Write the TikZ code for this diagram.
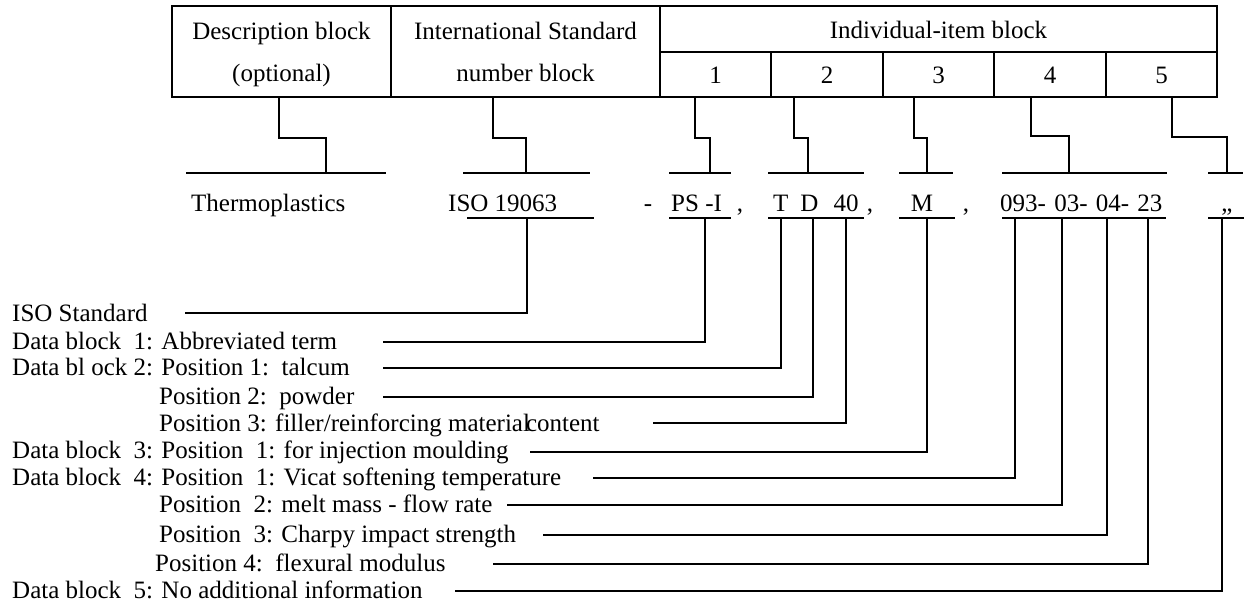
\documentclass[tikz,border=0pt]{standalone}
\usepackage{fontspec}
\setmainfont{Liberation Serif}
\begin{document}
\begin{tikzpicture}[x=1pt,y=-1pt,
  cellbox/.style={draw, line width=2.4pt, inner sep=0pt, outer sep=0pt, rectangle},
  conn/.style={line width=2pt},
  txt/.style={inner sep=0pt, font=\fontsize{25}{30}\selectfont},
  hdr/.style={txt, anchor=base},
  lbl/.style={txt, anchor=base west},
  valc/.style={txt, anchor=base},
]
\useasboundingbox[fill=white] (0,0) rectangle (1249,605);

% ---------- table ----------
\node[cellbox, minimum width=219pt, minimum height=91pt] (desc) at (281.5,51.5) {};
\node[cellbox, minimum width=269pt, minimum height=91pt] (isob) at (525.5,51.5) {};
\node[cellbox, minimum width=557pt, minimum height=46pt] (indiv) at (938.5,29) {};
\node[cellbox, minimum width=111pt, minimum height=45pt] (c1) at (715.5,74.5) {};
\node[cellbox, minimum width=112pt, minimum height=45pt] (c2) at (827,74.5) {};
\node[cellbox, minimum width=111pt, minimum height=45pt] (c3) at (938.5,74.5) {};
\node[cellbox, minimum width=112pt, minimum height=45pt] (c4) at (1050,74.5) {};
\node[cellbox, minimum width=111pt, minimum height=45pt] (c5) at (1161.5,74.5) {};

\node[hdr] (descA) at (281.5,39) {Description block};
\node[hdr] (descB) at (281.5,81) {(optional)};
\node[hdr] (isoA) at (525.5,39) {International Standard};
\node[hdr] (isoB) at (525.5,81) {number block};
\node[hdr] (indivT) at (938.5,38) {Individual-item block};
\node[hdr] (n1) at (715.5,83) {1};
\node[hdr] (n2) at (827,83) {2};
\node[hdr] (n3) at (938.5,83) {3};
\node[hdr] (n4) at (1050,83) {4};
\node[hdr] (n5) at (1161.5,83) {5};

% ---------- stepped connectors from the table ----------
\coordinate (dT) at (279,97);  \coordinate (dJ) at (326,138);  \coordinate (dB) at (326,173);
\coordinate (iT) at (493,97);  \coordinate (iJ) at (526,138);  \coordinate (iB) at (526,173);
\coordinate (aT) at (695,97);  \coordinate (aJ) at (710,138);  \coordinate (aB) at (710,173);
\coordinate (bT) at (794,97);  \coordinate (bJ) at (808,138);  \coordinate (bB) at (808,173);
\coordinate (cT) at (914,97);  \coordinate (cJ) at (927,138);  \coordinate (cB) at (927,173);
\coordinate (eT) at (1031,97); \coordinate (eJ) at (1069,136); \coordinate (eB) at (1069,173);
\coordinate (fT) at (1172,97); \coordinate (fJ) at (1227,137); \coordinate (fB) at (1227,173);
\foreach \p in {d,i,a,b,c,e,f} {
  \draw[conn] (\p T) |- (\p J) -- (\p B);
}
% top bars
\coordinate (dL) at (186,173);  \coordinate (dR) at (386,173);
\coordinate (iL) at (463,173);  \coordinate (iR) at (590,173);
\coordinate (aL) at (669,173);  \coordinate (aR) at (731,173);
\coordinate (bL) at (768,173);  \coordinate (bR) at (864,173);
\coordinate (cL) at (899,173);  \coordinate (cR) at (953,173);
\coordinate (eL) at (1002,173); \coordinate (eR) at (1167,173);
\coordinate (fL) at (1208,173); \coordinate (fR) at (1243,173);
\foreach \p in {d,i,a,b,c,e,f} {
  \draw[conn] (\p L) -- (\p R);
}

% ---------- designation row ----------
\node[lbl] (thermo) at (191,211) {Thermoplastics};
\node[lbl] (isonum) at (448,211) {ISO 19063};
\node[valc] (dash) at (648,211) {-};
\node[lbl] (psi) at (671,211) {PS -I};
\node[valc] (cm1) at (740,211) {,};
\node[lbl] (td40) at (773,211) {T\hspace{12pt}D\hspace{15pt}40};
\node[valc] (cm2) at (870,211) {,};
\node[valc] (mm) at (922,211) {M};
\node[valc] (cm3) at (966,211) {,};
\node[lbl] (nums) at (1000,211) {093-\hspace{2pt} 03-\hspace{2pt} 04-\hspace{2pt} 23};
\node[valc] (quo) at (1227,211) {„};

% underlines
\coordinate (uiL) at (467,218);  \coordinate (uiR) at (594,218);
\coordinate (uaL) at (669,218);  \coordinate (uaR) at (731,218);
\coordinate (ubL) at (768,218);  \coordinate (ubR) at (864,218);
\coordinate (ucL) at (899,218);  \coordinate (ucR) at (955,218);
\coordinate (ueL) at (1002,218); \coordinate (ueR) at (1166,218);
\coordinate (ufL) at (1208,218); \coordinate (ufR) at (1244,218);
\foreach \p in {i,a,b,c,e,f} {
  \draw[conn] (u\p L) -- (u\p R);
}

% ---------- explanation labels and leaders ----------
\node[lbl] (r0) at (12,321) {ISO Standard};
\node[lbl] (r1) at (12,349) {Data block~~1: Abbreviated term};
\node[lbl] (r2) at (12,375) {Data bl ock 2: Position 1:~~talcum};
\node[lbl] (r3) at (159,404) {Position 2:~~powder};
\node[lbl] (r4) at (159,431) {Position 3: filler/reinforcing material\hspace{-4pt}content};
\node[lbl] (r5) at (12,458) {Data block~~3: Position~~1: for injection moulding};
\node[lbl] (r6) at (12,485) {Data block~~4: Position~~1: Vicat softening temperature};
\node[lbl] (r7) at (159,512) {Position~~2: melt mass - flow rate};
\node[lbl] (r8) at (159,542) {Position~~3: Charpy impact strength};
\node[lbl] (r9) at (155,571) {Position 4:~~flexural modulus};
\node[lbl] (r10) at (12,598) {Data block~~5: No additional information};

\coordinate (s0) at (185,313);  \coordinate (v0) at (527,218);
\coordinate (s1) at (383,342);  \coordinate (v1) at (705,218);
\coordinate (s2) at (383,368);  \coordinate (v2) at (781,218);
\coordinate (s3) at (383,397);  \coordinate (v3) at (813,218);
\coordinate (s4) at (653,423);  \coordinate (v4) at (846,218);
\coordinate (s5) at (530,452);  \coordinate (v5) at (927,218);
\coordinate (s6) at (593,478);  \coordinate (v6) at (1015,218);
\coordinate (s7) at (507,505);  \coordinate (v7) at (1062,218);
\coordinate (s8) at (543,535);  \coordinate (v8) at (1107,218);
\coordinate (s9) at (493,564);  \coordinate (v9) at (1148,218);
\coordinate (s10) at (455,591); \coordinate (v10) at (1222,218);
\foreach \k in {0,...,10} {
  \draw[conn] (s\k) -| (v\k);
}
\end{tikzpicture}
\end{document}
